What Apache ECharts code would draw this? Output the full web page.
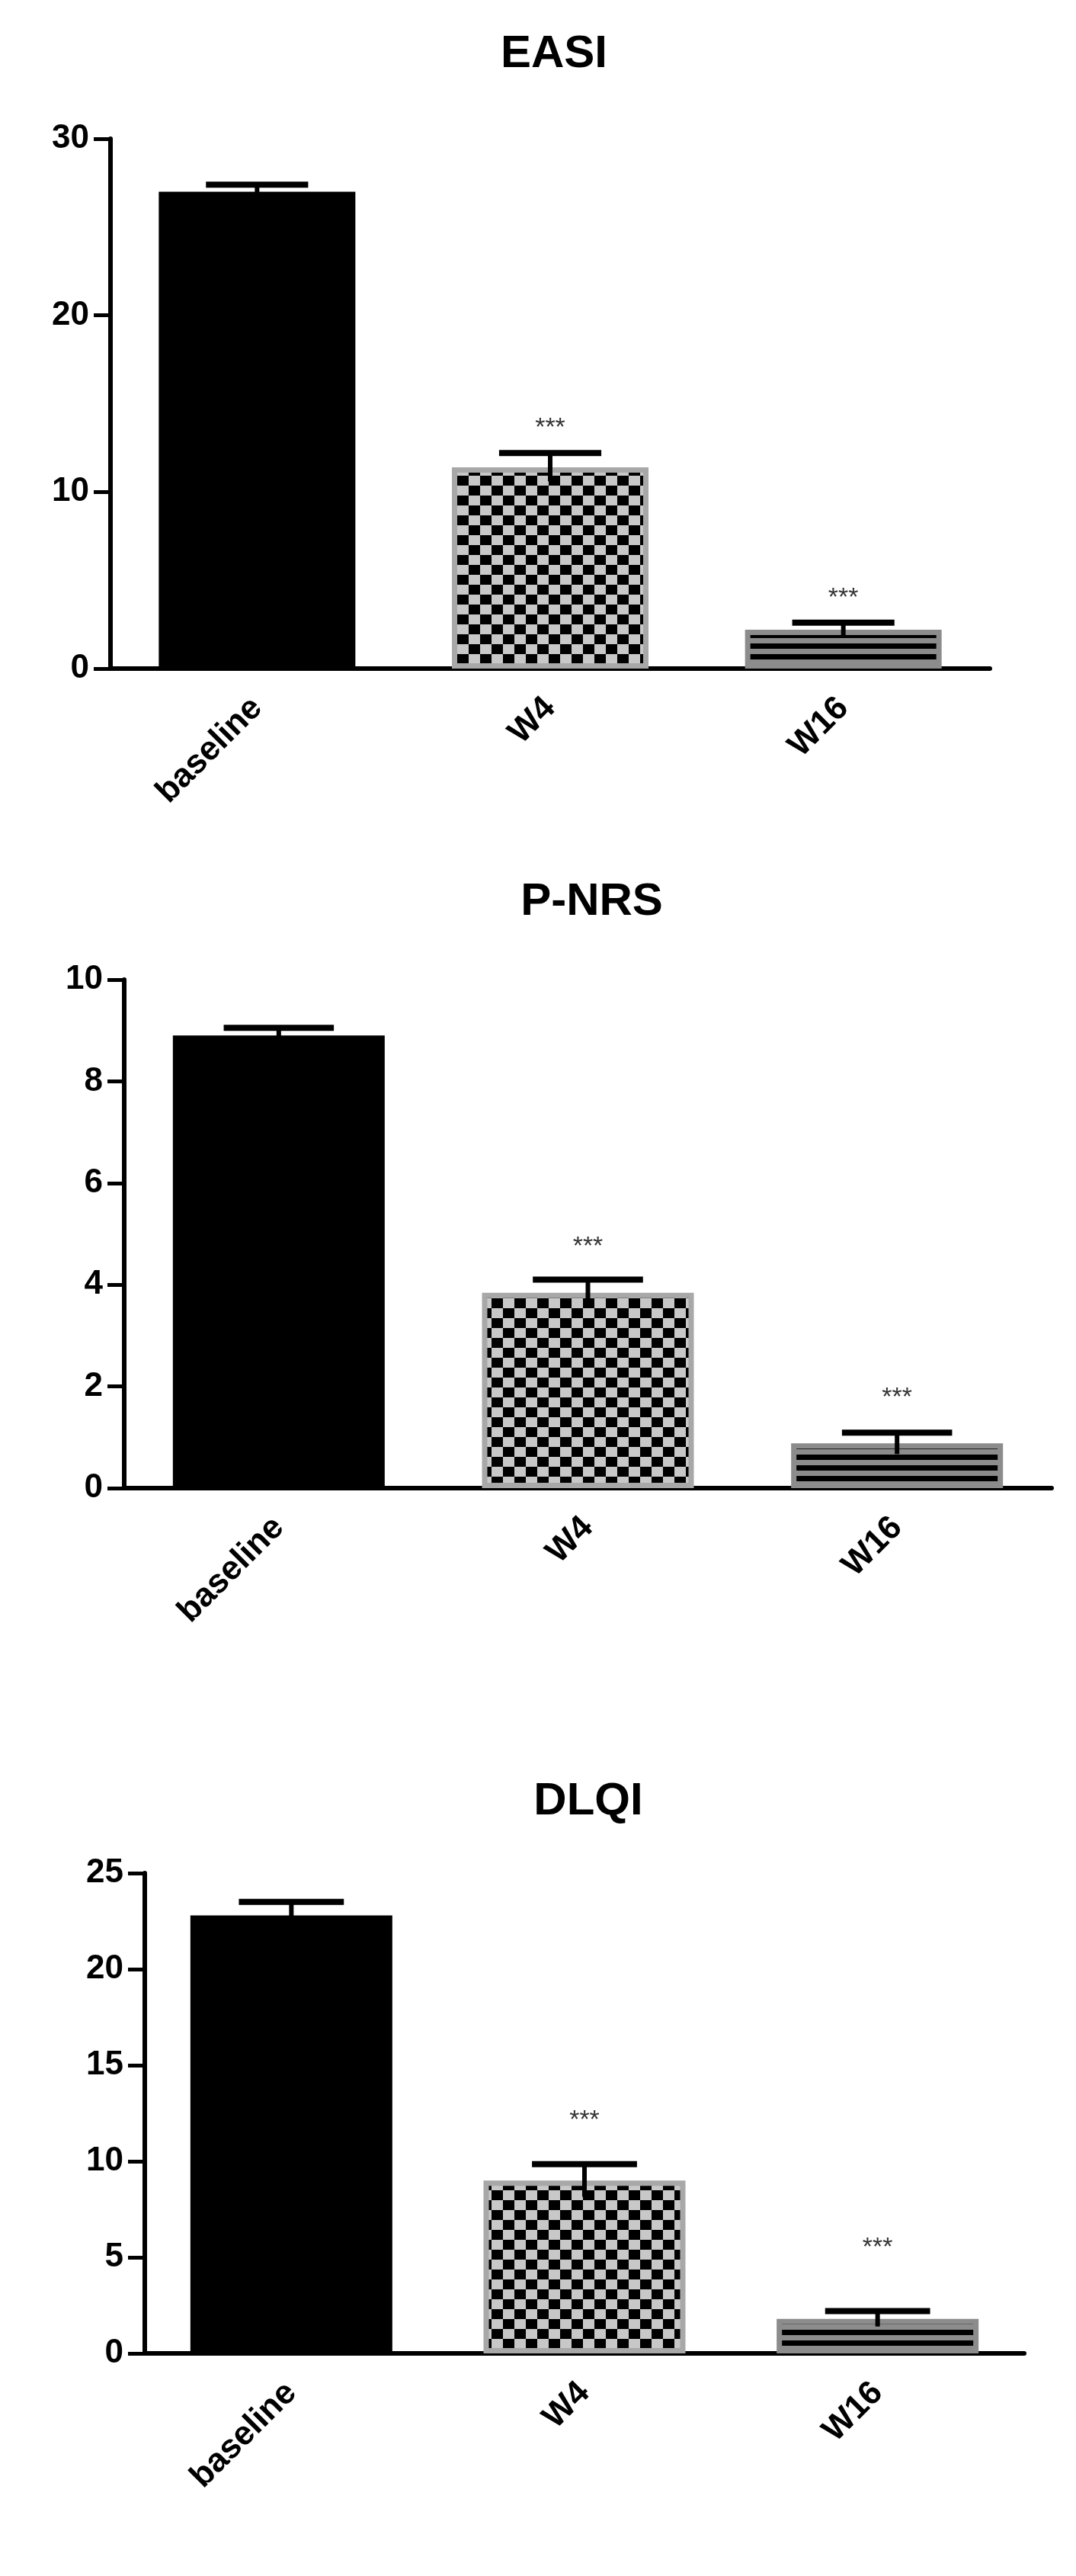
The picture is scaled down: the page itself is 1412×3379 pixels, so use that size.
<!DOCTYPE html>
<html>
<head>
<meta charset="utf-8">
<script src="https://cdn.jsdelivr.net/npm/echarts@6/dist/echarts.min.js"></script>
<style>
  html, body { margin: 0; padding: 0; background: #fff; }
  #chart { width: 1412px; height: 3379px; }
</style>
</head>
<body>
<div id="chart"></div>
<script>
const categories = ['baseline', 'W4', 'W16']
const titles = ['EASI', 'P-NRS', 'DLQI']
const means = [[27.0, 11.4, 2.2], [8.9, 3.84, 0.88], [22.8, 9.0, 1.8]]
const errors = [[0.4, 0.8, 0.4], [0.15, 0.26, 0.21], [0.7, 0.85, 0.4]]
const starY = [[null, 13.6, 4.0], [null, 4.74, 1.78], [null, 12.1, 5.5]]
const yMax = [30, 10, 25]
const yStep = [10, 2, 5]

// layout per panel (pixels)
const grids = [
    { left: 145, right: 113, top: 182, height: 695 },
    { left: 163, right: 32, top: 1285, height: 667 },
    { left: 190, right: 68, top: 2457, height: 630 }
]
const titleTops = [36, 1148, 2328]
const barWidths = [258, 278, 265]

function checkerPattern () {
    const c = document.createElement('canvas')
    c.width = 30; c.height = 26
    const g = c.getContext('2d')
    g.fillStyle = '#c8c8c8'; g.fillRect(0, 0, 30, 26)
    g.fillStyle = '#000'
    g.fillRect(0, 0, 15, 13); g.fillRect(15, 13, 15, 13)
    return c
}
function stripePattern () {
    const c = document.createElement('canvas')
    c.width = 10; c.height = 14
    const g = c.getContext('2d')
    g.fillStyle = '#8c8c8c'; g.fillRect(0, 0, 10, 14)
    g.fillStyle = '#000'; g.fillRect(0, 4, 10, 7)
    return c
}
const fills = [
    { color: '#000', border: '#000' },
    { color: { image: checkerPattern(), repeat: 'repeat' }, border: '#a8a8a8' },
    { color: { image: stripePattern(), repeat: 'repeat' }, border: '#8c8c8c' }
]

const font = 'Liberation Sans Narrow, Liberation Sans, Arial, sans-serif'
const option = { animation: false, title: [], grid: [], xAxis: [], yAxis: [], series: [] }

titles.forEach((t, i) => {
    const g = grids[i]
    option.title.push({
        text: t, left: g.left + (1412 - g.left - g.right) / 2, top: titleTops[i], textAlign: 'center',
        textStyle: { fontFamily: font, fontSize: 60, fontWeight: 'bold', color: '#000' }
    })
    option.grid.push(g)
    option.xAxis.push({
        type: 'category', gridIndex: i, data: categories,
        axisLine: { lineStyle: { color: '#000', width: 6 } },
        axisTick: { alignWithLabel: true, length: 28, lineStyle: { color: '#000', width: 5 } },
        axisLabel: { rotate: 45, margin: 45, fontFamily: font, fontSize: 44, fontWeight: 'bold', color: '#000' }
    })
    option.yAxis.push({
        type: 'value', gridIndex: i, min: 0, max: yMax[i], interval: yStep[i],
        splitLine: { show: false },
        axisLine: { show: true, lineStyle: { color: '#000', width: 6 } },
        axisTick: { show: true, length: 22, lineStyle: { color: '#000', width: 5 } },
        axisLabel: { margin: 28, fontFamily: font, fontSize: 44, fontWeight: 'bold', color: '#000' }
    })
    option.series.push({
        type: 'bar', xAxisIndex: i, yAxisIndex: i, barWidth: barWidths[i],
        data: means[i].map((v, k) => ({
            value: v,
            itemStyle: { color: fills[k].color, borderColor: fills[k].border, borderWidth: k === 0 ? 0 : 7 }
        }))
    })
    option.series.push({
        type: 'custom', xAxisIndex: i, yAxisIndex: i, z: 5,
        data: means[i].map((v, k) => [k, v - errors[i][k], v + errors[i][k]]),
        renderItem: (params, api) => {
            const lo = api.coord([api.value(0), api.value(1)])
            const hi = api.coord([api.value(0), api.value(2)])
            const half = barWidths[i] * 0.26
            return {
                type: 'group',
                children: [
                    { type: 'line', shape: { x1: hi[0], y1: hi[1], x2: lo[0], y2: lo[1] }, style: { stroke: '#000', lineWidth: 6 } },
                    { type: 'line', shape: { x1: hi[0] - half, y1: hi[1], x2: hi[0] + half, y2: hi[1] }, style: { stroke: '#000', lineWidth: 8 } }
                ]
            }
        }
    })
    option.series.push({
        type: 'scatter', xAxisIndex: i, yAxisIndex: i, symbolSize: 0, z: 6,
        data: starY[i].map((v, k) => (v === null ? null : [k, v])).filter(d => d),
        label: { show: true, position: 'inside', formatter: '***', fontFamily: font, fontSize: 34, color: '#000' }
    })
})

const chart = echarts.init(document.getElementById('chart'))
chart.setOption(option)
</script>
</body>
</html>
